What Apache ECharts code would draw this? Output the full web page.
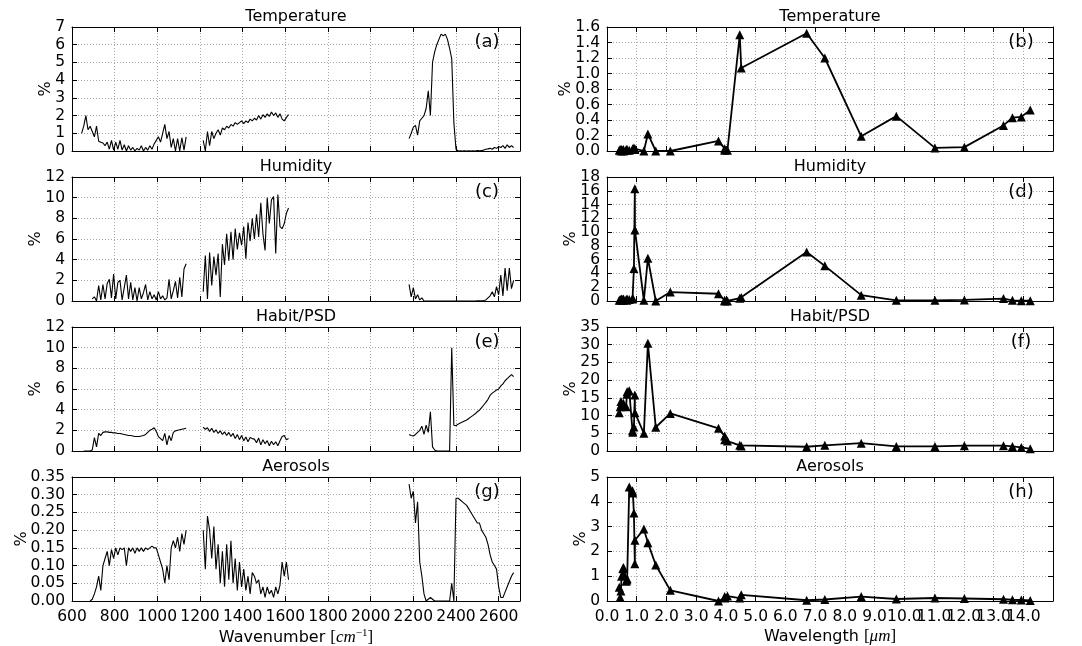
<!DOCTYPE html>
<html><head><meta charset="utf-8">
<script src="https://cdn.jsdelivr.net/npm/echarts@6/dist/echarts.min.js"></script>
<style>html,body{margin:0;padding:0;background:#fff}#c{width:1082px;height:646px}</style>
</head><body><div id="c"></div>
<script>
// ---------- DATA ----------
// Wavenumber grid (cm^-1) for left panels; null rows break the line
const wnGrid = [
 645,655,665,675,685,695,705,715,725,735,745,755,765,775,785,795,805,815,825,835,
 845,855,865,875,885,895,905,915,925,935,945,955,965,975,985,995,1005,1015,1025,1035,
 1045,1055,1065,1075,1085,1095,1105,1115,1125,1135,
 1175,
 1215,1225,1235,1245,1255,1265,1275,1285,1295,1305,1315,1325,1335,1345,1355,1365,1375,1385,1395,1405,
 1415,1425,1435,1445,1455,1465,1475,1485,1495,1505,1515,1525,1535,1545,1555,1565,1575,1585,1595,1605,1615,
 1900,
 2180,2190,2200,2210,2220,2230,2240,2250,2260,2270,2280,2290,2300,2310,2320,2330,2340,2350,2360,2370,
 2380,2390,2400,2410,2420,2430,2440,2450,2460,2470,2480,2490,2500,2510,2520,2530,2540,2550,2560,2570,
 2580,2590,2600,2610,2620,2630,2640,2650,2660,2670
];
const tempA = [
 1.0,1.4,2.0,1.2,1.4,1.1,0.8,1.4,0.55,0.5,0.45,0.3,0.5,0.1,0.6,0.05,0.5,0.1,0.6,0.05,
 0.35,0.0,0.3,0.05,0.2,0.0,0.15,0.05,0.3,0.0,0.2,0.05,0.3,0.1,0.4,0.6,0.8,0.5,1.0,1.5,
 0.7,1.1,0.2,0.7,0.0,0.7,0.0,0.75,0.05,0.8,
 null,
 0.6,0.0,1.1,0.3,1.1,0.7,1.0,1.2,0.9,1.3,1.2,1.4,1.3,1.5,1.4,1.6,1.5,1.6,1.7,1.55,
 1.7,1.6,1.8,1.7,1.85,1.75,2.0,1.8,2.05,1.9,2.1,1.95,2.2,2.0,2.15,1.9,2.1,1.8,1.7,1.9,2.05,
 null,
 0.7,1.0,1.35,1.45,0.9,1.7,1.85,2.0,2.4,3.4,2.0,5.0,5.6,6.0,6.3,6.6,6.5,6.6,6.3,5.8,
 5.2,1.6,0.1,0.0,0.01,0.0,0.01,0.0,0.01,0.0,0.01,0.0,0.02,0.01,0.03,0.05,0.1,0.12,0.15,0.1,
 0.2,0.15,0.25,0.2,0.3,0.15,0.35,0.2,0.3,0.2
];
const humC = [
 null,null,null,null,null,0.2,0.4,0.0,1.5,0.1,1.6,0.2,1.7,2.1,0.3,2.6,0.2,1.8,2.0,0.1,
 1.3,2.5,0.2,1.8,0.1,1.3,0.0,1.3,0.2,0.8,1.6,0.1,0.9,0.2,0.6,0.1,0.9,0.2,0.5,0.1,
 0.3,2.1,0.2,1.0,1.9,0.3,2.3,0.4,3.1,3.6,
 null,
 0.9,4.4,0.2,4.7,1.5,4.3,2.5,4.6,0.4,5.5,3.5,6.5,3.9,6.7,4.0,7.0,5.0,6.6,5.4,7.2,
 4.1,7.6,5.8,8.0,6.0,8.4,6.2,9.5,6.5,4.9,10.0,7.5,9.8,10.1,4.6,10.3,7.2,7.0,7.5,8.5,9.0,
 null,
 1.6,0.4,1.3,0.2,0.6,0.1,0.3,0.0,0.0,0.0,0,0,0,0,0,0,0,0,0,0,
 0,0,0,0,0,0,0,0,0,0,0.0,0.0,0.01,0.02,0.03,0.05,0.1,0.3,0.5,0.9,
 0.4,1.4,0.6,2.5,0.5,3.2,1.0,3.2,1.2,2.0
];
const habitE = [
 null,0.0,0.0,0.0,0.0,0.1,1.3,0.4,1.7,1.5,1.8,1.85,1.85,1.8,1.8,1.75,1.75,1.7,1.7,1.65,
 1.6,1.55,1.5,1.5,1.45,1.4,1.4,1.4,1.45,1.5,1.6,1.8,2.0,2.1,2.25,1.9,1.4,1.2,1.0,1.7,
 0.6,1.5,1.0,1.8,1.95,2.0,2.05,2.1,2.15,2.2,
 null,
 2.3,2.1,2.25,1.9,2.2,1.8,2.05,1.7,1.95,1.6,1.85,1.5,1.8,1.4,1.7,1.2,1.6,1.1,1.5,1.0,
 1.35,0.9,1.3,1.2,1.15,0.8,1.25,0.6,1.1,0.7,1.0,0.5,0.95,0.6,0.9,0.5,1.0,1.4,1.5,1.1,1.2,
 null,
 1.6,1.5,1.45,1.6,1.8,2.0,2.4,1.6,2.5,1.8,3.8,0.4,0.1,0.0,0,0,0,0,0,0,
 10.0,2.5,2.45,2.6,2.7,2.8,2.9,3.0,3.15,3.3,3.45,3.6,3.8,3.95,4.2,4.45,4.7,5.0,5.4,5.6,
 5.75,5.9,6.0,6.3,6.5,6.8,7.0,7.2,7.4,7.2
];
const aeroG = [
 null,null,null,null,0.0,0.005,0.02,0.04,0.07,0.03,0.1,0.12,0.14,0.1,0.145,0.12,0.15,0.13,0.15,0.145,
 0.15,0.1,0.15,0.14,0.15,0.135,0.15,0.14,0.15,0.14,0.15,0.145,0.15,0.155,0.15,0.15,0.13,0.11,0.09,0.05,
 0.1,0.06,0.15,0.17,0.15,0.18,0.14,0.19,0.16,0.2,
 null,
 0.2,0.09,0.24,0.2,0.12,0.21,0.09,0.16,0.05,0.14,0.04,0.16,0.06,0.17,0.05,0.12,0.03,0.11,0.04,0.09,
 0.03,0.07,0.02,0.08,0.07,0.05,0.06,0.02,0.04,0.01,0.04,0.02,0.03,0.01,0.04,0.02,0.045,0.11,0.07,0.11,0.06,
 null,
 0.33,0.29,0.31,0.22,0.28,0.11,0.07,0.02,0.0,0.005,0.01,0.005,0.0,0.0,0,0,0,0,0,0,
 0.05,0.0,0.29,0.29,0.285,0.28,0.275,0.27,0.26,0.25,0.24,0.23,0.22,0.22,0.2,0.19,0.18,0.16,0.13,0.11,
 0.1,0.09,0.04,0.01,0.01,0.025,0.04,0.055,0.07,0.08
];

// Wavelengths (um) for right panels
const wavelengths = [0.412,0.443,0.469,0.488,0.531,0.551,0.555,0.645,0.667,0.678,0.748,0.858,0.869,0.905,0.936,0.940,
 1.240,1.375,1.640,2.130,3.750,3.959,3.959,4.050,4.465,4.515,6.715,7.325,8.550,9.730,11.030,12.020,13.335,13.635,13.935,14.235];
const tempB = [0.01,0.02,0.0,0.02,0.01,0.02,0.0,0.02,0.01,0.02,0.01,0.02,0.03,0.04,0.03,0.02,
 0.0,0.22,0.0,0.0,0.13,0.03,0.01,0.01,1.5,1.07,1.52,1.2,0.19,0.45,0.04,0.05,0.33,0.43,0.44,0.53];
const humD = [0.1,0.2,0.1,0.3,0.2,0.1,0.3,0.2,0.1,0.3,0.2,0.3,0.4,4.7,16.3,10.3,
 0.1,6.2,0.0,1.3,1.05,0.1,0.0,0.0,0.4,0.5,7.1,5.1,0.85,0.1,0.1,0.15,0.35,0.1,0.05,0.05];
const habitF = [10.8,12.5,14.0,13.2,12.8,13.5,12.6,12.5,16.0,16.8,17.0,5.7,5.3,6.8,15.8,10.8,
 5.0,30.4,6.7,10.6,6.4,4.2,3.2,2.8,1.6,1.4,1.2,1.6,2.2,1.3,1.3,1.5,1.5,1.3,1.0,0.6];
const aeroH = [0.55,0.15,0.4,1.0,1.3,1.1,1.35,0.8,0.85,0.9,4.6,4.45,4.35,3.55,1.5,2.45,
 2.9,2.35,1.45,0.43,0.0,0.12,0.18,0.2,0.12,0.25,0.03,0.06,0.18,0.08,0.12,0.1,0.07,0.05,0.04,0.02];

const titles = ['Temperature','Humidity','Habit/PSD','Aerosols'];
const tagsLeft = ['(a)','(c)','(e)','(g)'];
const tagsRight = ['(b)','(d)','(f)','(h)'];

// ---------- LAYOUT / STYLE ----------
const FONT = 'DejaVu Sans';
const cols = [{left:72, width:448, min:600, max:2700, interval:200, dec:0},
              {left:607, width:446, min:0, max:15, interval:1, dec:1}];
const rowTop = [27,177,327,477];
const rowH = 124;

const panels = [
 {col:0,row:0,x:wnGrid,y:tempA,ymax:7,yint:1,ydec:0,gap:18},
 {col:1,row:0,x:wavelengths,y:tempB,ymax:1.6,yint:0.2,ydec:1,gap:33},
 {col:0,row:1,x:wnGrid,y:humC,ymax:12,yint:2,ydec:0,gap:28},
 {col:1,row:1,x:wavelengths,y:humD,ymax:18,yint:2,ydec:0,gap:28},
 {col:0,row:2,x:wnGrid,y:habitE,ymax:12,yint:2,ydec:0,gap:28},
 {col:1,row:2,x:wavelengths,y:habitF,ymax:35,yint:5,ydec:0,gap:28},
 {col:0,row:3,x:wnGrid,y:aeroG,ymax:0.35,yint:0.05,ydec:2,gap:42},
 {col:1,row:3,x:wavelengths,y:aeroH,ymax:5,yint:1,ydec:0,gap:18}
];

const grids = [], xAxes = [], yAxes = [], series = [], graphics = [];
const lineBlack = {color:'#000', width:1};
const tickStyle = {show:true, inside:true, length:5, lineStyle:{color:'#000', width:1}};
const splitStyle = {show:true, lineStyle:{color:'#aaa', type:[1,2], width:1}};
const yLabelBase = {fontSize:15.5, fontFamily:FONT, color:'#000', margin:7, showMinLabel:true, showMaxLabel:true, hideOverlap:false};

const richName = {
  n:{fontSize:16, fontFamily:FONT, color:'#000'},
  m:{fontSize:17, fontFamily:'Liberation Serif', color:'#000'},
  i:{fontSize:17, fontFamily:'Liberation Serif', fontStyle:'italic', color:'#000'},
  s:{fontSize:11, fontFamily:'Liberation Serif', color:'#000', verticalAlign:'top', padding:[0,0,8,0]}
};

panels.forEach((p, k) => {
  const c = cols[p.col];
  grids.push({left:c.left, width:c.width, top:rowTop[p.row], height:rowH, containLabel:false, outerBoundsMode:'none'});
  const bottom = p.row === 3;
  const xa = {
    type:'value', gridIndex:k, min:c.min, max:c.max, interval:c.interval, position:'bottom',
    axisLine:{show:true, onZero:false, lineStyle:lineBlack},
    axisTick:tickStyle, splitLine:splitStyle,
    axisLabel:{show:bottom, fontSize:15.5, fontFamily:FONT, color:'#000', margin:8, showMaxLabel:false, showMinLabel:true,
               hideOverlap:false, formatter:v => v.toFixed(c.dec)}
  };
  if (bottom) {
    xa.name = p.col === 0 ? '{n|Wavenumber }{m|[}{i|cm}{s|−1}{m|]}' : '{n|Wavelength }{m|[}{i|μm}{m|]}';
    xa.nameLocation = 'middle';
    xa.nameGap = 27;
    xa.nameMoveOverlap = false;
    xa.nameTextStyle = {fontSize:16, fontFamily:FONT, color:'#000', rich:richName};
  }
  xAxes.push(xa);
  xAxes.push({type:'value', gridIndex:k, min:c.min, max:c.max, interval:c.interval, position:'top',
    axisLine:{show:true, onZero:false, lineStyle:lineBlack}, axisTick:tickStyle,
    splitLine:{show:false}, axisLabel:{show:false}});
  const parity = v => Math.round(v / p.yint) % 2;
  // left axis: frame, ticks, grid, even-step labels
  yAxes.push({type:'value', gridIndex:k, min:0, max:p.ymax, interval:p.yint, position:'left',
    axisLine:{show:true, onZero:false, lineStyle:lineBlack}, axisTick:tickStyle, splitLine:splitStyle,
    axisLabel:Object.assign({}, yLabelBase, {formatter:v => parity(v) === 0 ? v.toFixed(p.ydec) : ''}),
    name:'%', nameLocation:'middle', nameGap:p.gap, nameMoveOverlap:false,
    nameTextStyle:{fontSize:16, fontFamily:FONT, color:'#000'}});
  // companion left axis: odd-step labels only
  yAxes.push({type:'value', gridIndex:k, min:0, max:p.ymax, interval:p.yint, position:'left', offset:0,
    axisLine:{show:false}, axisTick:{show:false}, splitLine:{show:false},
    axisLabel:Object.assign({}, yLabelBase, {formatter:v => parity(v) === 1 ? v.toFixed(p.ydec) : ''})});
  yAxes.push({type:'value', gridIndex:k, min:0, max:p.ymax, interval:p.yint, position:'right',
    axisLine:{show:true, onZero:false, lineStyle:lineBlack}, axisTick:tickStyle,
    splitLine:{show:false}, axisLabel:{show:false}});

  const data = p.x.map((xv, i) => [xv, p.y[i] === null ? '-' : p.y[i]]);
  if (p.col === 0) {
    series.push({type:'line', xAxisIndex:2*k, yAxisIndex:3*k, data, showSymbol:false, symbol:'none',
      connectNulls:false, lineStyle:{color:'#000', width:1.1}, animation:false, silent:true, z:3});
  } else {
    series.push({type:'line', xAxisIndex:2*k, yAxisIndex:3*k, data, symbol:'triangle', symbolSize:9,
      itemStyle:{color:'#000'}, lineStyle:{color:'#000', width:1.8}, animation:false, silent:true, z:3});
  }

  const cx = c.left + c.width/2;
  graphics.push({type:'text', x:cx, y:rowTop[p.row]-10, style:{text:titles[p.row], fontSize:16, fontFamily:FONT,
    fill:'#000', align:'center', verticalAlign:'middle'}});
  graphics.push({type:'text', x:p.col === 0 ? 487 : 1021, y:rowTop[p.row]+15,
    style:{text:(p.col === 0 ? tagsLeft : tagsRight)[p.row], fontSize:18, fontFamily:FONT, fill:'#000',
    align:'center', verticalAlign:'middle'}});
});

const chart = echarts.init(document.getElementById('c'), null, {renderer:'canvas'});
chart.setOption({
  animation:false,
  backgroundColor:'#fff',
  grid:grids, xAxis:xAxes, yAxis:yAxes, series, graphic:graphics
});
</script></body></html>
